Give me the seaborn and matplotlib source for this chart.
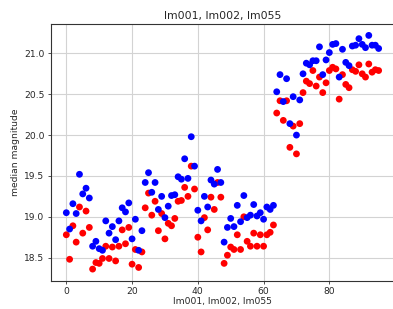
import numpy as np
import pandas as pd
import matplotlib
matplotlib.use("Agg")
import matplotlib.pyplot as plt
import seaborn as sns

# -------------------------------
# Data
# -------------------------------
blue_vals = [19.05, 18.85, 19.16, 19.04, 19.52, 19.28, 19.35, 19.23, 18.64, 18.70,
             18.61, 18.59, 18.95, 18.80, 18.88, 18.72, 18.95, 19.11, 19.06, 19.17,
             18.73, 18.97, 18.59, 18.83, 19.42, 19.54, 19.30, 19.42, 19.09, 19.25,
             18.99, 19.13, 19.26, 19.27, 19.49, 19.46, 19.71, 19.47, 19.98, 19.62,
             19.08, 18.95, 19.25, 19.12, 19.45, 19.40, 19.58, 19.42, 18.69, 18.87,
             18.98, 18.88, 19.14, 18.94, 19.26, 18.99, 19.02, 19.15, 19.01, 19.05,
             18.97, 19.12, 19.09, 19.14, 20.53, 20.74, 20.41, 20.69, 20.14, 20.47,
             20.00, 20.43, 20.75, 20.88, 20.86, 20.91, 20.91, 21.08, 20.74, 20.92,
             21.01, 21.11, 21.12, 20.71, 21.05, 20.89, 20.85, 21.09, 21.10, 21.18,
             21.11, 21.07, 21.22, 21.10, 21.10, 21.06]

red_vals = [18.78, 18.48, 18.89, 18.69, 19.12, 18.80, 19.07, 18.87, 18.36, 18.44,
            18.43, 18.49, 18.64, 18.49, 18.63, 18.46, 18.64, 18.84, 18.67, 18.87,
            18.42, 18.60, 18.38, 18.57, 19.11, 19.29, 19.02, 19.19, 18.83, 19.04,
            18.73, 18.92, 18.89, 18.98, 19.19, 19.20, 19.36, 19.25, 19.62, 19.34,
            18.75, 18.57, 18.99, 18.84, 19.24, 19.09, 19.42, 19.24, 18.43, 18.53,
            18.63, 18.60, 18.78, 18.60, 19.00, 18.70, 18.64, 18.80, 18.64, 18.78,
            18.64, 18.78, 18.81, 18.90, 20.27, 20.42, 20.18, 20.42, 19.85, 20.11,
            19.77, 20.14, 20.52, 20.66, 20.63, 20.79, 20.60, 20.71, 20.52, 20.64,
            20.79, 20.83, 20.81, 20.44, 20.74, 20.62, 20.58, 20.80, 20.78, 20.86,
            20.75, 20.71, 20.87, 20.77, 20.80, 20.79]

title = "lm001, lm002, lm055"
x_label = "lm001, lm002, lm055"
y_label = "median magnitude"

# -------------------------------
# Long table for seaborn
# -------------------------------
idx = np.arange(len(blue_vals))
df = pd.concat([
    pd.DataFrame({"idx": idx, "mag": red_vals, "series": "red"}),
    pd.DataFrame({"idx": idx, "mag": blue_vals, "series": "blue"}),
], ignore_index=True)

sns.set_style("whitegrid")
plt.rcParams["font.family"] = ["DejaVu Sans"]

fig = plt.figure(figsize=(3.93, 3.09), dpi=100)
ax = fig.add_axes([0.129, 0.0916, 0.8742, 0.8298])

sns.scatterplot(data=df, x="idx", y="mag", hue="series",
                palette={"red": "#ff0000", "blue": "#0000ff"},
                s=24, linewidth=0, legend=False, ax=ax, zorder=3)

ax.set_xlim(-4.75, 99.75)
ax.set_ylim(18.218, 21.356)
ax.set_xticks([0, 20, 40, 60, 80])
ax.set_yticks([18.5, 19.0, 19.5, 20.0, 20.5, 21.0])
ax.set_yticklabels(["18.5", "19.0", "19.5", "20.0", "20.5", "21.0"])

ax.grid(True, color="#d3d3d3", linewidth=0.8)
for side in ["left", "bottom", "top", "right"]:
    ax.spines[side].set_color("#333333")
    ax.spines[side].set_linewidth(0.8)

ax.tick_params(axis="both", labelsize=6.6, length=2.5, width=0.6,
               color="#333333", pad=2, bottom=True, left=True)
ax.set_title(title, fontsize=7.8, pad=4)
ax.set_xlabel(x_label, fontsize=6.6, labelpad=1)
ax.set_ylabel(y_label, fontsize=6.6, labelpad=3)

fig.savefig("out.png", dpi=100)
